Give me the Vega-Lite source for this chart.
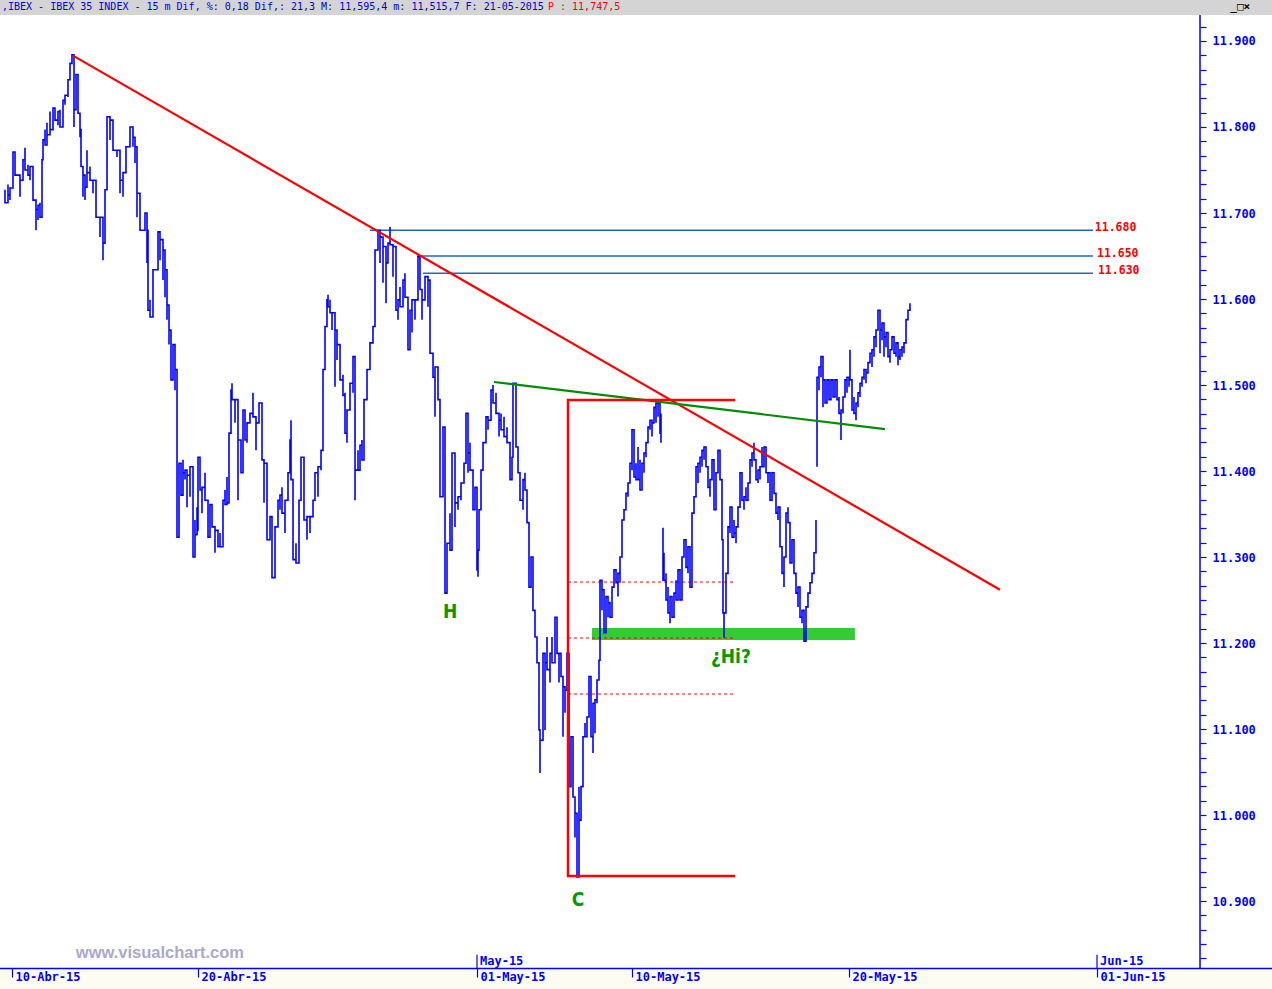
{
"$schema":"https://vega.github.io/schema/vega-lite/v6.json",
"width":1272,"height":989,"autosize":{"type":"none"},"padding":0,
"background":"white",
"config":{"view":{"stroke":null},"axis":{"grid":false}},
"datasets":{
"hdr":[{"t":-0.3871,"t2":40.645,"v":11930.2,"v2":11947.67}],
"cream":[{"t":-0.3871,"t2":40.645,"v":10797.7,"v2":10821.5}],
"band":[{"t":18.71,"t2":27.19,"v":11203.5,"v2":11217.4}],
"levels":[{"t":11.548,"t2":34.87,"v":11680},{"t":13.065,"t2":34.87,"v":11650},{"t":13.258,"t2":34.87,"v":11630}],
"levlab":[{"t":34.93,"v":11680,"l":"11.680"},{"t":35.0,"v":11650,"l":"11.650"},{"t":35.03,"v":11630,"l":"11.630"}],
"fib":[{"t":17.935,"t2":23.323,"v":11270.9},{"t":17.935,"t2":23.323,"v":11205.8},{"t":17.935,"t2":23.323,"v":11140.7}],
"trend":[{"t":1.968,"v":11883},{"t":31.87,"v":11262}],
"gline":[{"t":15.548,"v":11503.5},{"t":28.161,"v":11448.8}],
"bracket":[{"t":23.323,"v":11482.6},{"t":17.935,"v":11482.6},{"t":17.935,"v":10929.0},{"t":23.323,"v":10929.0}],
"yline":[{"t":38.323,"v":10821.5,"v2":11930.2}],
"xline":[{"t":-0.3871,"t2":40.645,"v":10821.5}],
"mticks":[{"t":15,"v":10822,"v2":10837.5},{"t":35,"v":10822,"v2":10837.5}],
"mlab":[{"t":15,"v":10830.5,"l":"May-15"},{"t":35,"v":10830.5,"l":"Jun-15"}],
"ann":[{"t":14.13,"v":11236,"l":"H"},{"t":18.26,"v":10901,"l":"C"},{"t":23.19,"v":11184,"l":"¿Hi?"}],
"wm":[{"t":4.77,"v":10839.6,"l":"www.visualchart.com"}],
"htxt":[{"t":-0.323,"v":11939,"l":",IBEX - IBEX 35 INDEX -  15 m Dif, %: 0,18 Dif,: 21,3 M: 11,595,4 m: 11,515,7 F: 21-05-2015"}],
"htxt2":[{"t":17.29,"v":11939,"l":"P : 11,747,5"}],
"btn":[{"t":39.3,"v":11939,"l":"_□×"}],
"price":[
{"s":1,"t":-0.226,"v":11727},{"s":1,"t":-0.226,"v":11712},
{"s":1,"t":-0.129,"v":11733},{"s":1,"t":-0.129,"v":11721},
{"s":1,"t":-0.065,"v":11715},{"s":1,"t":-0.065,"v":11729},
{"s":1,"t":0.032,"v":11750},{"s":1,"t":0.032,"v":11771},
{"s":1,"t":0.097,"v":11756},{"s":1,"t":0.097,"v":11744},
{"s":1,"t":0.258,"v":11719},{"s":1,"t":0.258,"v":11738},
{"s":1,"t":0.355,"v":11744},{"s":1,"t":0.355,"v":11762},
{"s":1,"t":0.419,"v":11776},{"s":1,"t":0.419,"v":11750},
{"s":1,"t":0.516,"v":11756},{"s":1,"t":0.516,"v":11744},
{"s":1,"t":0.581,"v":11738},{"s":1,"t":0.581,"v":11754},
{"s":1,"t":0.677,"v":11733},{"s":1,"t":0.677,"v":11715},
{"s":1,"t":0.774,"v":11680},{"s":1,"t":0.774,"v":11704},
{"s":1,"t":0.839,"v":11692},{"s":1,"t":0.839,"v":11709},
{"s":1,"t":0.903,"v":11712},{"s":1,"t":0.903,"v":11695},
{"s":1,"t":0.968,"v":11748},{"s":1,"t":0.968,"v":11762},
{"s":1,"t":1.0,"v":11773},{"s":1,"t":1.0,"v":11785},
{"s":1,"t":1.065,"v":11797},{"s":1,"t":1.065,"v":11779},
{"s":1,"t":1.129,"v":11805},{"s":1,"t":1.129,"v":11791},
{"s":1,"t":1.226,"v":11818},{"s":1,"t":1.226,"v":11797},
{"s":1,"t":1.323,"v":11808},{"s":1,"t":1.323,"v":11822},
{"s":1,"t":1.387,"v":11823},{"s":1,"t":1.387,"v":11808},
{"s":1,"t":1.484,"v":11802},{"s":1,"t":1.484,"v":11818},
{"s":1,"t":1.548,"v":11820},{"s":1,"t":1.548,"v":11800},
{"s":1,"t":1.645,"v":11816},{"s":1,"t":1.645,"v":11831},
{"s":1,"t":1.710,"v":11826},{"s":1,"t":1.710,"v":11837},
{"s":1,"t":1.806,"v":11835},{"s":1,"t":1.806,"v":11855},
{"s":1,"t":1.871,"v":11863},{"s":1,"t":1.871,"v":11874},
{"s":1,"t":1.935,"v":11878},{"s":1,"t":1.935,"v":11884},
{"s":1,"t":2.0,"v":11800},{"s":1,"t":2.0,"v":11820},
{"s":1,"t":2.065,"v":11843},{"s":1,"t":2.065,"v":11861},
{"s":1,"t":2.129,"v":11831},{"s":1,"t":2.129,"v":11816},
{"s":1,"t":2.194,"v":11788},{"s":1,"t":2.194,"v":11797},
{"s":1,"t":2.226,"v":11773},{"s":1,"t":2.226,"v":11754},
{"s":1,"t":2.290,"v":11719},{"s":1,"t":2.290,"v":11744},
{"s":1,"t":2.355,"v":11715},{"s":1,"t":2.355,"v":11730},
{"s":1,"t":2.419,"v":11773},{"s":1,"t":2.419,"v":11747},
{"s":1,"t":2.516,"v":11754},{"s":1,"t":2.516,"v":11738},
{"s":1,"t":2.613,"v":11723},{"s":1,"t":2.613,"v":11738},
{"s":1,"t":2.710,"v":11712},{"s":1,"t":2.710,"v":11695},
{"s":1,"t":2.839,"v":11672},{"s":1,"t":2.839,"v":11695},
{"s":1,"t":2.935,"v":11645},{"s":1,"t":2.935,"v":11665},
{"s":1,"t":3.0,"v":11704},{"s":1,"t":3.0,"v":11727},
{"s":1,"t":3.065,"v":11797},{"s":1,"t":3.065,"v":11812},
{"s":1,"t":3.161,"v":11785},{"s":1,"t":3.161,"v":11808},
{"s":1,"t":3.258,"v":11788},{"s":1,"t":3.258,"v":11773},
{"s":1,"t":3.387,"v":11765},{"s":1,"t":3.387,"v":11773},
{"s":1,"t":3.484,"v":11723},{"s":1,"t":3.484,"v":11738},
{"s":1,"t":3.581,"v":11719},{"s":1,"t":3.581,"v":11747},
{"s":1,"t":3.677,"v":11758},{"s":1,"t":3.677,"v":11777},
{"s":1,"t":3.806,"v":11788},{"s":1,"t":3.806,"v":11800},
{"s":1,"t":3.903,"v":11777},{"s":1,"t":3.903,"v":11788},
{"s":1,"t":3.968,"v":11758},{"s":1,"t":3.968,"v":11777},
{"s":1,"t":4.032,"v":11695},{"s":1,"t":4.032,"v":11723},
{"s":1,"t":4.129,"v":11712},{"s":1,"t":4.129,"v":11680},
{"s":1,"t":4.290,"v":11680},{"s":1,"t":4.290,"v":11700},
{"s":1,"t":4.355,"v":11642},{"s":1,"t":4.355,"v":11680},
{"s":1,"t":4.387,"v":11630},{"s":1,"t":4.387,"v":11587},
{"s":1,"t":4.452,"v":11599},{"s":1,"t":4.452,"v":11579},
{"s":1,"t":4.548,"v":11611},{"s":1,"t":4.548,"v":11634},
{"s":1,"t":4.710,"v":11657},{"s":1,"t":4.710,"v":11678},
{"s":1,"t":4.774,"v":11645},{"s":1,"t":4.774,"v":11669},
{"s":1,"t":4.871,"v":11622},{"s":1,"t":4.871,"v":11657},
{"s":1,"t":4.935,"v":11602},{"s":1,"t":4.935,"v":11634},
{"s":1,"t":5.0,"v":11576},{"s":1,"t":5.0,"v":11593},
{"s":1,"t":5.065,"v":11547},{"s":1,"t":5.065,"v":11564},
{"s":1,"t":5.129,"v":11541},{"s":1,"t":5.129,"v":11506},
{"s":1,"t":5.194,"v":11529},{"s":1,"t":5.194,"v":11547},
{"s":1,"t":5.258,"v":11494},{"s":1,"t":5.258,"v":11518},
{"s":1,"t":5.323,"v":11448},{"s":1,"t":5.323,"v":11323},
{"s":1,"t":5.387,"v":11366},{"s":1,"t":5.387,"v":11409},
{"s":1,"t":5.452,"v":11390},{"s":1,"t":5.452,"v":11372},
{"s":1,"t":5.516,"v":11413},{"s":1,"t":5.516,"v":11398},
{"s":1,"t":5.581,"v":11390},{"s":1,"t":5.581,"v":11401},
{"s":1,"t":5.645,"v":11358},{"s":1,"t":5.645,"v":11395},
{"s":1,"t":5.742,"v":11370},{"s":1,"t":5.742,"v":11405},
{"s":1,"t":5.839,"v":11320},{"s":1,"t":5.839,"v":11300},
{"s":1,"t":5.903,"v":11343},{"s":1,"t":5.903,"v":11326},
{"s":1,"t":5.968,"v":11358},{"s":1,"t":5.968,"v":11331},
{"s":1,"t":6.0,"v":11393},{"s":1,"t":6.0,"v":11416},
{"s":1,"t":6.065,"v":11390},{"s":1,"t":6.065,"v":11378},
{"s":1,"t":6.129,"v":11351},{"s":1,"t":6.129,"v":11381},
{"s":1,"t":6.226,"v":11398},{"s":1,"t":6.226,"v":11366},
{"s":1,"t":6.323,"v":11351},{"s":1,"t":6.323,"v":11323},
{"s":1,"t":6.387,"v":11343},{"s":1,"t":6.387,"v":11361},
{"s":1,"t":6.452,"v":11351},{"s":1,"t":6.452,"v":11335},
{"s":1,"t":6.548,"v":11305},{"s":1,"t":6.548,"v":11331},
{"s":1,"t":6.645,"v":11320},{"s":1,"t":6.645,"v":11312},
{"s":1,"t":6.710,"v":11328},{"s":1,"t":6.710,"v":11312},
{"s":1,"t":6.806,"v":11335},{"s":1,"t":6.806,"v":11366},
{"s":1,"t":6.871,"v":11378},{"s":1,"t":6.871,"v":11361},
{"s":1,"t":6.935,"v":11393},{"s":1,"t":6.935,"v":11363},
{"s":1,"t":7.0,"v":11428},{"s":1,"t":7.0,"v":11444},
{"s":1,"t":7.065,"v":11483},{"s":1,"t":7.065,"v":11494},
{"s":1,"t":7.097,"v":11502},{"s":1,"t":7.097,"v":11483},
{"s":1,"t":7.194,"v":11456},{"s":1,"t":7.194,"v":11483},
{"s":1,"t":7.290,"v":11366},{"s":1,"t":7.290,"v":11436},
{"s":1,"t":7.387,"v":11416},{"s":1,"t":7.387,"v":11398},
{"s":1,"t":7.452,"v":11444},{"s":1,"t":7.452,"v":11471},
{"s":1,"t":7.516,"v":11454},{"s":1,"t":7.516,"v":11436},
{"s":1,"t":7.581,"v":11433},{"s":1,"t":7.581,"v":11456},
{"s":1,"t":7.677,"v":11459},{"s":1,"t":7.677,"v":11467},
{"s":1,"t":7.774,"v":11491},{"s":1,"t":7.774,"v":11463},
{"s":1,"t":7.871,"v":11424},{"s":1,"t":7.871,"v":11456},
{"s":1,"t":7.968,"v":11456},{"s":1,"t":7.968,"v":11479},
{"s":1,"t":8.065,"v":11433},{"s":1,"t":8.065,"v":11413},
{"s":1,"t":8.129,"v":11363},{"s":1,"t":8.129,"v":11409},
{"s":1,"t":8.226,"v":11355},{"s":1,"t":8.226,"v":11320},
{"s":1,"t":8.323,"v":11328},{"s":1,"t":8.323,"v":11347},
{"s":1,"t":8.387,"v":11308},{"s":1,"t":8.387,"v":11276},
{"s":1,"t":8.484,"v":11305},{"s":1,"t":8.484,"v":11335},
{"s":1,"t":8.581,"v":11343},{"s":1,"t":8.581,"v":11366},
{"s":1,"t":8.645,"v":11355},{"s":1,"t":8.645,"v":11372},
{"s":1,"t":8.710,"v":11381},{"s":1,"t":8.710,"v":11351},
{"s":1,"t":8.806,"v":11328},{"s":1,"t":8.806,"v":11366},
{"s":1,"t":8.903,"v":11374},{"s":1,"t":8.903,"v":11398},
{"s":1,"t":8.968,"v":11416},{"s":1,"t":8.968,"v":11436},
{"s":1,"t":9.0,"v":11459},{"s":1,"t":9.0,"v":11390},
{"s":1,"t":9.065,"v":11347},{"s":1,"t":9.065,"v":11297},
{"s":1,"t":9.161,"v":11316},{"s":1,"t":9.161,"v":11293},
{"s":1,"t":9.258,"v":11335},{"s":1,"t":9.258,"v":11366},
{"s":1,"t":9.323,"v":11390},{"s":1,"t":9.323,"v":11416},
{"s":1,"t":9.419,"v":11358},{"s":1,"t":9.419,"v":11343},
{"s":1,"t":9.516,"v":11320},{"s":1,"t":9.516,"v":11347},
{"s":1,"t":9.613,"v":11328},{"s":1,"t":9.613,"v":11347},
{"s":1,"t":9.710,"v":11358},{"s":1,"t":9.710,"v":11366},
{"s":1,"t":9.774,"v":11366},{"s":1,"t":9.774,"v":11398},
{"s":1,"t":9.871,"v":11370},{"s":1,"t":9.871,"v":11405},
{"s":1,"t":9.968,"v":11401},{"s":1,"t":9.968,"v":11424},
{"s":1,"t":10.032,"v":11467},{"s":1,"t":10.032,"v":11518},
{"s":1,"t":10.097,"v":11521},{"s":1,"t":10.097,"v":11568},
{"s":1,"t":10.161,"v":11587},{"s":1,"t":10.161,"v":11599},
{"s":1,"t":10.194,"v":11605},{"s":1,"t":10.194,"v":11591},
{"s":1,"t":10.258,"v":11599},{"s":1,"t":10.258,"v":11584},
{"s":1,"t":10.323,"v":11564},{"s":1,"t":10.323,"v":11584},
{"s":1,"t":10.419,"v":11498},{"s":1,"t":10.419,"v":11564},
{"s":1,"t":10.484,"v":11529},{"s":1,"t":10.484,"v":11547},
{"s":1,"t":10.581,"v":11537},{"s":1,"t":10.581,"v":11506},
{"s":1,"t":10.677,"v":11512},{"s":1,"t":10.677,"v":11488},
{"s":1,"t":10.742,"v":11491},{"s":1,"t":10.742,"v":11444},
{"s":1,"t":10.806,"v":11433},{"s":1,"t":10.806,"v":11471},
{"s":1,"t":10.903,"v":11483},{"s":1,"t":10.903,"v":11502},
{"s":1,"t":11.0,"v":11491},{"s":1,"t":11.0,"v":11533},
{"s":1,"t":11.065,"v":11366},{"s":1,"t":11.065,"v":11401},
{"s":1,"t":11.161,"v":11424},{"s":1,"t":11.161,"v":11401},
{"s":1,"t":11.226,"v":11413},{"s":1,"t":11.226,"v":11430},
{"s":1,"t":11.290,"v":11436},{"s":1,"t":11.290,"v":11413},
{"s":1,"t":11.355,"v":11433},{"s":1,"t":11.355,"v":11483},
{"s":1,"t":11.452,"v":11483},{"s":1,"t":11.452,"v":11518},
{"s":1,"t":11.548,"v":11521},{"s":1,"t":11.548,"v":11549},
{"s":1,"t":11.645,"v":11549},{"s":1,"t":11.645,"v":11568},
{"s":1,"t":11.710,"v":11602},{"s":1,"t":11.710,"v":11657},
{"s":1,"t":11.806,"v":11661},{"s":1,"t":11.806,"v":11680},
{"s":1,"t":11.871,"v":11642},{"s":1,"t":11.871,"v":11672},
{"s":1,"t":11.968,"v":11619},{"s":1,"t":11.968,"v":11661},
{"s":1,"t":12.065,"v":11595},{"s":1,"t":12.065,"v":11642},
{"s":1,"t":12.129,"v":11642},{"s":1,"t":12.129,"v":11665},
{"s":1,"t":12.194,"v":11684},{"s":1,"t":12.194,"v":11663},
{"s":1,"t":12.290,"v":11626},{"s":1,"t":12.290,"v":11661},
{"s":1,"t":12.387,"v":11614},{"s":1,"t":12.387,"v":11587},
{"s":1,"t":12.452,"v":11576},{"s":1,"t":12.452,"v":11599},
{"s":1,"t":12.516,"v":11614},{"s":1,"t":12.516,"v":11591},
{"s":1,"t":12.613,"v":11605},{"s":1,"t":12.613,"v":11622},
{"s":1,"t":12.677,"v":11630},{"s":1,"t":12.677,"v":11602},
{"s":1,"t":12.774,"v":11591},{"s":1,"t":12.774,"v":11541},
{"s":1,"t":12.839,"v":11564},{"s":1,"t":12.839,"v":11587},
{"s":1,"t":12.903,"v":11561},{"s":1,"t":12.903,"v":11599},
{"s":1,"t":13.0,"v":11576},{"s":1,"t":13.0,"v":11599},
{"s":1,"t":13.097,"v":11619},{"s":1,"t":13.097,"v":11649},
{"s":1,"t":13.161,"v":11640},{"s":1,"t":13.161,"v":11611},
{"s":1,"t":13.226,"v":11576},{"s":1,"t":13.226,"v":11599},
{"s":1,"t":13.323,"v":11602},{"s":1,"t":13.323,"v":11626},
{"s":1,"t":13.419,"v":11591},{"s":1,"t":13.419,"v":11622},
{"s":1,"t":13.484,"v":11568},{"s":1,"t":13.484,"v":11537},
{"s":1,"t":13.581,"v":11533},{"s":1,"t":13.581,"v":11509},
{"s":1,"t":13.645,"v":11463},{"s":1,"t":13.645,"v":11521},
{"s":1,"t":13.742,"v":11509},{"s":1,"t":13.742,"v":11483},
{"s":1,"t":13.806,"v":11421},{"s":1,"t":13.806,"v":11370},
{"s":1,"t":13.903,"v":11416},{"s":1,"t":13.903,"v":11451},
{"s":1,"t":13.968,"v":11370},{"s":1,"t":13.968,"v":11258},
{"s":1,"t":14.032,"v":11297},{"s":1,"t":14.032,"v":11316},
{"s":1,"t":14.129,"v":11351},{"s":1,"t":14.129,"v":11308},
{"s":1,"t":14.194,"v":11401},{"s":1,"t":14.194,"v":11421},
{"s":1,"t":14.290,"v":11335},{"s":1,"t":14.290,"v":11363},
{"s":1,"t":14.387,"v":11355},{"s":1,"t":14.387,"v":11370},
{"s":1,"t":14.484,"v":11366},{"s":1,"t":14.484,"v":11386},
{"s":1,"t":14.581,"v":11393},{"s":1,"t":14.581,"v":11409},
{"s":1,"t":14.645,"v":11424},{"s":1,"t":14.645,"v":11467},
{"s":1,"t":14.710,"v":11398},{"s":1,"t":14.710,"v":11421},
{"s":1,"t":14.774,"v":11433},{"s":1,"t":14.774,"v":11401},
{"s":1,"t":14.871,"v":11381},{"s":1,"t":14.871,"v":11355},
{"s":1,"t":14.935,"v":11363},{"s":1,"t":14.935,"v":11381},
{"s":1,"t":15.0,"v":11343},{"s":1,"t":15.0,"v":11285},
{"s":1,"t":15.032,"v":11277},{"s":1,"t":15.032,"v":11308},
{"s":1,"t":15.065,"v":11323},{"s":1,"t":15.065,"v":11355},
{"s":1,"t":15.129,"v":11363},{"s":1,"t":15.129,"v":11401},
{"s":1,"t":15.194,"v":11405},{"s":1,"t":15.194,"v":11433},
{"s":1,"t":15.290,"v":11444},{"s":1,"t":15.290,"v":11463},
{"s":1,"t":15.355,"v":11448},{"s":1,"t":15.355,"v":11459},
{"s":1,"t":15.452,"v":11471},{"s":1,"t":15.452,"v":11494},
{"s":1,"t":15.516,"v":11500},{"s":1,"t":15.516,"v":11479},
{"s":1,"t":15.613,"v":11491},{"s":1,"t":15.613,"v":11467},
{"s":1,"t":15.710,"v":11440},{"s":1,"t":15.710,"v":11459},
{"s":1,"t":15.774,"v":11467},{"s":1,"t":15.774,"v":11448},
{"s":1,"t":15.871,"v":11463},{"s":1,"t":15.871,"v":11440},
{"s":1,"t":15.968,"v":11451},{"s":1,"t":15.968,"v":11433},
{"s":1,"t":16.065,"v":11428},{"s":1,"t":16.065,"v":11390},
{"s":1,"t":16.129,"v":11390},{"s":1,"t":16.129,"v":11416},
{"s":1,"t":16.161,"v":11479},{"s":1,"t":16.161,"v":11502},
{"s":1,"t":16.258,"v":11456},{"s":1,"t":16.258,"v":11428},
{"s":1,"t":16.323,"v":11405},{"s":1,"t":16.323,"v":11398},
{"s":1,"t":16.387,"v":11390},{"s":1,"t":16.387,"v":11366},
{"s":1,"t":16.484,"v":11355},{"s":1,"t":16.484,"v":11390},
{"s":1,"t":16.548,"v":11398},{"s":1,"t":16.548,"v":11378},
{"s":1,"t":16.613,"v":11351},{"s":1,"t":16.613,"v":11340},
{"s":1,"t":16.677,"v":11308},{"s":1,"t":16.677,"v":11265},
{"s":1,"t":16.742,"v":11277},{"s":1,"t":16.742,"v":11300},
{"s":1,"t":16.806,"v":11265},{"s":1,"t":16.806,"v":11238},
{"s":1,"t":16.871,"v":11230},{"s":1,"t":16.871,"v":11207},
{"s":1,"t":16.935,"v":11207},{"s":1,"t":16.935,"v":11177},
{"s":1,"t":17.0,"v":11154},{"s":1,"t":17.0,"v":11099},
{"s":1,"t":17.032,"v":11049},{"s":1,"t":17.032,"v":11087},
{"s":1,"t":17.129,"v":11149},{"s":1,"t":17.129,"v":11188},
{"s":1,"t":17.194,"v":11099},{"s":1,"t":17.194,"v":11177},
{"s":1,"t":17.258,"v":11207},{"s":1,"t":17.258,"v":11169},
{"s":1,"t":17.355,"v":11154},{"s":1,"t":17.355,"v":11188},
{"s":1,"t":17.419,"v":11207},{"s":1,"t":17.419,"v":11177},
{"s":1,"t":17.516,"v":11207},{"s":1,"t":17.516,"v":11230},
{"s":1,"t":17.581,"v":11215},{"s":1,"t":17.581,"v":11188},
{"s":1,"t":17.645,"v":11154},{"s":1,"t":17.645,"v":11188},
{"s":1,"t":17.710,"v":11180},{"s":1,"t":17.710,"v":11161},
{"s":1,"t":17.774,"v":11091},{"s":1,"t":17.774,"v":11149},
{"s":1,"t":17.839,"v":11119},{"s":1,"t":17.839,"v":11145},
{"s":1,"t":17.903,"v":11157},{"s":1,"t":17.903,"v":11188},
{"s":1,"t":17.968,"v":11091},{"s":1,"t":17.968,"v":11033},
{"s":1,"t":18.032,"v":11044},{"s":1,"t":18.032,"v":11091},
{"s":1,"t":18.097,"v":11061},{"s":1,"t":18.097,"v":11021},
{"s":1,"t":18.161,"v":10974},{"s":1,"t":18.161,"v":11002},
{"s":1,"t":18.226,"v":10994},{"s":1,"t":18.226,"v":10928},
{"s":1,"t":18.290,"v":11033},{"s":1,"t":18.290,"v":10994},
{"s":1,"t":18.355,"v":11014},{"s":1,"t":18.355,"v":11033},
{"s":1,"t":18.419,"v":11052},{"s":1,"t":18.419,"v":11091},
{"s":1,"t":18.484,"v":11107},{"s":1,"t":18.484,"v":11091},
{"s":1,"t":18.548,"v":11095},{"s":1,"t":18.548,"v":11114},
{"s":1,"t":18.613,"v":11122},{"s":1,"t":18.613,"v":11161},
{"s":1,"t":18.677,"v":11134},{"s":1,"t":18.677,"v":11091},
{"s":1,"t":18.742,"v":11072},{"s":1,"t":18.742,"v":11130},
{"s":1,"t":18.806,"v":11095},{"s":1,"t":18.806,"v":11134},
{"s":1,"t":18.871,"v":11130},{"s":1,"t":18.871,"v":11157},
{"s":1,"t":18.935,"v":11169},{"s":1,"t":18.935,"v":11180},
{"s":1,"t":18.968,"v":11207},{"s":1,"t":18.968,"v":11273},
{"s":1,"t":19.032,"v":11238},{"s":1,"t":19.032,"v":11262},
{"s":1,"t":19.097,"v":11247},{"s":1,"t":19.097,"v":11212},
{"s":1,"t":19.161,"v":11235},{"s":1,"t":19.161,"v":11254},
{"s":1,"t":19.226,"v":11230},{"s":1,"t":19.226,"v":11247},
{"s":1,"t":19.290,"v":11247},{"s":1,"t":19.290,"v":11230},
{"s":1,"t":19.355,"v":11238},{"s":1,"t":19.355,"v":11265},
{"s":1,"t":19.419,"v":11265},{"s":1,"t":19.419,"v":11285},
{"s":1,"t":19.484,"v":11285},{"s":1,"t":19.484,"v":11270},
{"s":1,"t":19.548,"v":11254},{"s":1,"t":19.548,"v":11281},
{"s":1,"t":19.613,"v":11270},{"s":1,"t":19.613,"v":11300},
{"s":1,"t":19.677,"v":11305},{"s":1,"t":19.677,"v":11343},
{"s":1,"t":19.742,"v":11347},{"s":1,"t":19.742,"v":11355},
{"s":1,"t":19.806,"v":11355},{"s":1,"t":19.806,"v":11374},
{"s":1,"t":19.871,"v":11370},{"s":1,"t":19.871,"v":11386},
{"s":1,"t":19.935,"v":11401},{"s":1,"t":19.935,"v":11409},
{"s":1,"t":20.0,"v":11401},{"s":1,"t":20.0,"v":11448},
{"s":1,"t":20.065,"v":11433},{"s":1,"t":20.065,"v":11393},
{"s":1,"t":20.129,"v":11409},{"s":1,"t":20.129,"v":11390},
{"s":1,"t":20.194,"v":11428},{"s":1,"t":20.194,"v":11390},
{"s":1,"t":20.258,"v":11413},{"s":1,"t":20.258,"v":11378},
{"s":1,"t":20.323,"v":11390},{"s":1,"t":20.323,"v":11409},
{"s":1,"t":20.387,"v":11398},{"s":1,"t":20.387,"v":11421},
{"s":1,"t":20.452,"v":11416},{"s":1,"t":20.452,"v":11433},
{"s":1,"t":20.516,"v":11436},{"s":1,"t":20.516,"v":11451},
{"s":1,"t":20.581,"v":11448},{"s":1,"t":20.581,"v":11459},
{"s":1,"t":20.645,"v":11440},{"s":1,"t":20.645,"v":11456},
{"s":1,"t":20.710,"v":11459},{"s":1,"t":20.710,"v":11474},
{"s":1,"t":20.774,"v":11456},{"s":1,"t":20.774,"v":11479},
{"s":1,"t":20.839,"v":11463},{"s":1,"t":20.839,"v":11479},
{"s":1,"t":20.903,"v":11471},{"s":1,"t":20.903,"v":11444},
{"s":1,"t":20.935,"v":11467},{"s":1,"t":20.935,"v":11433},
{"s":2,"t":21.0,"v":11334},{"s":2,"t":21.0,"v":11273},
{"s":2,"t":21.032,"v":11305},{"s":2,"t":21.032,"v":11273},
{"s":2,"t":21.097,"v":11281},{"s":2,"t":21.097,"v":11250},
{"s":2,"t":21.161,"v":11265},{"s":2,"t":21.161,"v":11235},
{"s":2,"t":21.226,"v":11223},{"s":2,"t":21.226,"v":11254},
{"s":2,"t":21.290,"v":11250},{"s":2,"t":21.290,"v":11230},
{"s":2,"t":21.355,"v":11238},{"s":2,"t":21.355,"v":11258},
{"s":2,"t":21.419,"v":11273},{"s":2,"t":21.419,"v":11250},
{"s":2,"t":21.484,"v":11258},{"s":2,"t":21.484,"v":11285},
{"s":2,"t":21.548,"v":11270},{"s":2,"t":21.548,"v":11250},
{"s":2,"t":21.613,"v":11273},{"s":2,"t":21.613,"v":11300},
{"s":2,"t":21.677,"v":11305},{"s":2,"t":21.677,"v":11320},
{"s":2,"t":21.742,"v":11312},{"s":2,"t":21.742,"v":11288},
{"s":2,"t":21.806,"v":11281},{"s":2,"t":21.806,"v":11312},
{"s":2,"t":21.871,"v":11300},{"s":2,"t":21.871,"v":11265},
{"s":2,"t":21.935,"v":11323},{"s":2,"t":21.935,"v":11351},
{"s":2,"t":22.0,"v":11351},{"s":2,"t":22.0,"v":11370},
{"s":2,"t":22.065,"v":11381},{"s":2,"t":22.065,"v":11405},
{"s":2,"t":22.129,"v":11386},{"s":2,"t":22.129,"v":11409},
{"s":2,"t":22.194,"v":11398},{"s":2,"t":22.194,"v":11416},
{"s":2,"t":22.258,"v":11405},{"s":2,"t":22.258,"v":11424},
{"s":2,"t":22.323,"v":11413},{"s":2,"t":22.323,"v":11428},
{"s":2,"t":22.387,"v":11428},{"s":2,"t":22.387,"v":11405},
{"s":2,"t":22.452,"v":11398},{"s":2,"t":22.452,"v":11381},
{"s":2,"t":22.516,"v":11370},{"s":2,"t":22.516,"v":11390},
{"s":2,"t":22.581,"v":11398},{"s":2,"t":22.581,"v":11413},
{"s":2,"t":22.645,"v":11398},{"s":2,"t":22.645,"v":11355},
{"s":2,"t":22.710,"v":11374},{"s":2,"t":22.710,"v":11398},
{"s":2,"t":22.774,"v":11405},{"s":2,"t":22.774,"v":11424},
{"s":2,"t":22.839,"v":11405},{"s":2,"t":22.839,"v":11390},
{"s":2,"t":22.903,"v":11351},{"s":2,"t":22.903,"v":11320},
{"s":2,"t":22.935,"v":11320},{"s":2,"t":22.935,"v":11235},
{"s":2,"t":22.968,"v":11206},{"s":2,"t":22.968,"v":11235},
{"s":2,"t":23.032,"v":11250},{"s":2,"t":23.032,"v":11281},
{"s":2,"t":23.097,"v":11300},{"s":2,"t":23.097,"v":11335},
{"s":2,"t":23.161,"v":11328},{"s":2,"t":23.161,"v":11358},
{"s":2,"t":23.226,"v":11351},{"s":2,"t":23.226,"v":11323},
{"s":2,"t":23.290,"v":11343},{"s":2,"t":23.290,"v":11328},
{"s":2,"t":23.355,"v":11316},{"s":2,"t":23.355,"v":11335},
{"s":2,"t":23.419,"v":11340},{"s":2,"t":23.419,"v":11358},
{"s":2,"t":23.484,"v":11366},{"s":2,"t":23.484,"v":11398},
{"s":2,"t":23.548,"v":11381},{"s":2,"t":23.548,"v":11366},
{"s":2,"t":23.613,"v":11355},{"s":2,"t":23.613,"v":11370},
{"s":2,"t":23.677,"v":11381},{"s":2,"t":23.677,"v":11366},
{"s":2,"t":23.742,"v":11370},{"s":2,"t":23.742,"v":11386},
{"s":2,"t":23.806,"v":11401},{"s":2,"t":23.806,"v":11413},
{"s":2,"t":23.871,"v":11405},{"s":2,"t":23.871,"v":11421},
{"s":2,"t":23.935,"v":11433},{"s":2,"t":23.935,"v":11413},
{"s":2,"t":24.0,"v":11405},{"s":2,"t":24.0,"v":11390},
{"s":2,"t":24.065,"v":11386},{"s":2,"t":24.065,"v":11401},
{"s":2,"t":24.129,"v":11390},{"s":2,"t":24.129,"v":11405},
{"s":2,"t":24.194,"v":11428},{"s":2,"t":24.194,"v":11405},
{"s":2,"t":24.258,"v":11413},{"s":2,"t":24.258,"v":11428},
{"s":2,"t":24.323,"v":11409},{"s":2,"t":24.323,"v":11398},
{"s":2,"t":24.387,"v":11386},{"s":2,"t":24.387,"v":11398},
{"s":2,"t":24.452,"v":11390},{"s":2,"t":24.452,"v":11366},
{"s":2,"t":24.516,"v":11381},{"s":2,"t":24.516,"v":11398},
{"s":2,"t":24.581,"v":11390},{"s":2,"t":24.581,"v":11374},
{"s":2,"t":24.645,"v":11370},{"s":2,"t":24.645,"v":11351},
{"s":2,"t":24.710,"v":11343},{"s":2,"t":24.710,"v":11358},
{"s":2,"t":24.774,"v":11335},{"s":2,"t":24.774,"v":11312},
{"s":2,"t":24.839,"v":11308},{"s":2,"t":24.839,"v":11281},
{"s":2,"t":24.903,"v":11265},{"s":2,"t":24.903,"v":11300},
{"s":2,"t":24.968,"v":11312},{"s":2,"t":24.968,"v":11351},
{"s":2,"t":25.032,"v":11358},{"s":2,"t":25.032,"v":11340},
{"s":2,"t":25.097,"v":11323},{"s":2,"t":25.097,"v":11293},
{"s":2,"t":25.161,"v":11300},{"s":2,"t":25.161,"v":11320},
{"s":2,"t":25.226,"v":11297},{"s":2,"t":25.226,"v":11281},
{"s":2,"t":25.290,"v":11273},{"s":2,"t":25.290,"v":11258},
{"s":2,"t":25.355,"v":11242},{"s":2,"t":25.355,"v":11265},
{"s":2,"t":25.419,"v":11250},{"s":2,"t":25.419,"v":11230},
{"s":2,"t":25.484,"v":11223},{"s":2,"t":25.484,"v":11238},
{"s":2,"t":25.548,"v":11227},{"s":2,"t":25.548,"v":11202},
{"s":2,"t":25.613,"v":11223},{"s":2,"t":25.613,"v":11242},
{"s":2,"t":25.677,"v":11247},{"s":2,"t":25.677,"v":11258},
{"s":2,"t":25.742,"v":11258},{"s":2,"t":25.742,"v":11270},
{"s":2,"t":25.806,"v":11270},{"s":2,"t":25.806,"v":11281},
{"s":2,"t":25.871,"v":11281},{"s":2,"t":25.871,"v":11305},
{"s":2,"t":25.935,"v":11312},{"s":2,"t":25.935,"v":11343},
{"s":3,"t":25.968,"v":11405},{"s":3,"t":25.968,"v":11509},
{"s":3,"t":26.032,"v":11494},{"s":3,"t":26.032,"v":11521},
{"s":3,"t":26.097,"v":11509},{"s":3,"t":26.097,"v":11533},
{"s":3,"t":26.161,"v":11474},{"s":3,"t":26.161,"v":11506},
{"s":3,"t":26.226,"v":11498},{"s":3,"t":26.226,"v":11479},
{"s":3,"t":26.290,"v":11486},{"s":3,"t":26.290,"v":11506},
{"s":3,"t":26.355,"v":11498},{"s":3,"t":26.355,"v":11483},
{"s":3,"t":26.419,"v":11491},{"s":3,"t":26.419,"v":11506},
{"s":3,"t":26.484,"v":11502},{"s":3,"t":26.484,"v":11486},
{"s":3,"t":26.548,"v":11491},{"s":3,"t":26.548,"v":11506},
{"s":3,"t":26.613,"v":11498},{"s":3,"t":26.613,"v":11483},
{"s":3,"t":26.677,"v":11486},{"s":3,"t":26.677,"v":11467},
{"s":3,"t":26.742,"v":11436},{"s":3,"t":26.742,"v":11471},
{"s":3,"t":26.806,"v":11467},{"s":3,"t":26.806,"v":11486},
{"s":3,"t":26.871,"v":11486},{"s":3,"t":26.871,"v":11506},
{"s":3,"t":26.935,"v":11491},{"s":3,"t":26.935,"v":11509},
{"s":3,"t":27.0,"v":11498},{"s":3,"t":27.0,"v":11509},
{"s":3,"t":27.032,"v":11541},{"s":3,"t":27.032,"v":11506},
{"s":3,"t":27.097,"v":11491},{"s":3,"t":27.097,"v":11471},
{"s":3,"t":27.161,"v":11486},{"s":3,"t":27.161,"v":11467},
{"s":3,"t":27.226,"v":11459},{"s":3,"t":27.226,"v":11479},
{"s":3,"t":27.290,"v":11474},{"s":3,"t":27.290,"v":11491},
{"s":3,"t":27.355,"v":11486},{"s":3,"t":27.355,"v":11502},
{"s":3,"t":27.419,"v":11498},{"s":3,"t":27.419,"v":11509},
{"s":3,"t":27.484,"v":11506},{"s":3,"t":27.484,"v":11518},
{"s":3,"t":27.548,"v":11502},{"s":3,"t":27.548,"v":11514},
{"s":3,"t":27.613,"v":11514},{"s":3,"t":27.613,"v":11526},
{"s":3,"t":27.677,"v":11526},{"s":3,"t":27.677,"v":11537},
{"s":3,"t":27.742,"v":11521},{"s":3,"t":27.742,"v":11541},
{"s":3,"t":27.806,"v":11533},{"s":3,"t":27.806,"v":11556},
{"s":3,"t":27.871,"v":11544},{"s":3,"t":27.871,"v":11564},
{"s":3,"t":27.935,"v":11572},{"s":3,"t":27.935,"v":11587},
{"s":3,"t":28.0,"v":11537},{"s":3,"t":28.0,"v":11564},
{"s":3,"t":28.065,"v":11552},{"s":3,"t":28.065,"v":11572},
{"s":3,"t":28.129,"v":11533},{"s":3,"t":28.129,"v":11556},
{"s":3,"t":28.194,"v":11544},{"s":3,"t":28.194,"v":11561},
{"s":3,"t":28.258,"v":11552},{"s":3,"t":28.258,"v":11533},
{"s":3,"t":28.323,"v":11526},{"s":3,"t":28.323,"v":11541},
{"s":3,"t":28.387,"v":11541},{"s":3,"t":28.387,"v":11556},
{"s":3,"t":28.452,"v":11556},{"s":3,"t":28.452,"v":11537},
{"s":3,"t":28.516,"v":11533},{"s":3,"t":28.516,"v":11549},
{"s":3,"t":28.581,"v":11523},{"s":3,"t":28.581,"v":11533},
{"s":3,"t":28.645,"v":11529},{"s":3,"t":28.645,"v":11541},
{"s":3,"t":28.710,"v":11533},{"s":3,"t":28.710,"v":11544},
{"s":3,"t":28.774,"v":11537},{"s":3,"t":28.774,"v":11549},
{"s":3,"t":28.839,"v":11556},{"s":3,"t":28.839,"v":11576},
{"s":3,"t":28.903,"v":11576},{"s":3,"t":28.903,"v":11587},
{"s":3,"t":28.968,"v":11587},{"s":3,"t":28.968,"v":11595}
]
},
"encoding":{
"x":{"field":"t","type":"quantitative","scale":{"domain":[-0.3871,40.645],"nice":false,"zero":false},
"axis":{"orient":"bottom","offset":-21,"domain":false,"grid":false,"values":[0,6,15,20,27,35],"tickSize":9,"tickColor":"#0000ff","tickWidth":1.2,
"labelExpr":"datum.value == 0 ? '10-Abr-15' : datum.value == 6 ? '20-Abr-15' : datum.value == 15 ? '01-May-15' : datum.value == 20 ? '10-May-15' : datum.value == 27 ? '20-May-15' : '01-Jun-15'",
"labelAlign":"left","labelBaseline":"top","labelPadding":-6,"labelOffset":3,"labelFont":"DejaVu Sans Mono","labelFontWeight":"bold","labelFontSize":12,"labelColor":"#0000ff","title":null,"labelFlush":false,"labelOverlap":false,"labelBound":false,"zindex":1}},
"y":{"field":"v","type":"quantitative","scale":{"domain":[10797.7,11947.67],"nice":false,"zero":false},
"axis":{"orient":"right","offset":-72,"domain":false,"grid":false,
"values":[10833.333,10850,10866.667,10883.333,10900,10916.667,10933.333,10950,10966.667,10983.333,11000,11016.667,11033.333,11050,11066.667,11083.333,11100,11116.667,11133.333,11150,11166.667,11183.333,11200,11216.667,11233.333,11250,11266.667,11283.333,11300,11316.667,11333.333,11350,11366.667,11383.333,11400,11416.667,11433.333,11450,11466.667,11483.333,11500,11516.667,11533.333,11550,11566.667,11583.333,11600,11616.667,11633.333,11650,11666.667,11683.333,11700,11716.667,11733.333,11750,11766.667,11783.333,11800,11816.667,11833.333,11850,11866.667,11883.333,11900,11916.667],
"tickSize":6,"tickColor":"#0000ff","tickWidth":1.2,
"labelExpr":"abs(datum.value - round(datum.value/100)*100) < 0.5 ? replace(format(datum.value, ',.0f'), ',', '.') : ''",
"labelPadding":6,"labelFont":"DejaVu Sans Mono","labelFontWeight":"bold","labelFontSize":12,"labelColor":"#0000ff","title":null,"labelOverlap":false,"labelFlush":false,"labelBound":false,"zindex":1}}
},
"layer":[
{"data":{"name":"hdr"},"mark":{"type":"rect","color":"#d4d4d4"},"encoding":{"x2":{"field":"t2"},"y2":{"field":"v2"}}},
{"data":{"name":"cream"},"mark":{"type":"rect","color":"#fcfcf2"},"encoding":{"x2":{"field":"t2"},"y2":{"field":"v2"}}},
{"data":{"name":"band"},"mark":{"type":"rect","color":"#33cc33"},"encoding":{"x2":{"field":"t2"},"y2":{"field":"v2"}}},
{"data":{"name":"levels"},"mark":{"type":"rule","color":"#1f66c8","strokeWidth":1.5},"encoding":{"x2":{"field":"t2"}}},
{"data":{"name":"fib"},"mark":{"type":"rule","color":"#ff0000","strokeWidth":1,"strokeDash":[3,3]},"encoding":{"x2":{"field":"t2"}}},
{"data":{"name":"price"},"mark":{"type":"line","color":"#0000ff","strokeWidth":1.6,"interpolate":"step-after"},"encoding":{"detail":{"field":"s","type":"nominal"},"order":{"value":null}}},
{"data":{"name":"trend"},"mark":{"type":"line","color":"#ff0000","strokeWidth":2.2},"encoding":{}},
{"data":{"name":"gline"},"mark":{"type":"line","color":"#008c00","strokeWidth":2.2},"encoding":{}},
{"data":{"name":"bracket"},"mark":{"type":"line","color":"#ff0000","strokeWidth":2.5},"encoding":{"order":{"value":null}}},
{"data":{"name":"yline"},"mark":{"type":"rule","color":"#0000ff","strokeWidth":1.5},"encoding":{"y2":{"field":"v2"}}},
{"data":{"name":"xline"},"mark":{"type":"rule","color":"#0000ff","strokeWidth":1.5},"encoding":{"x2":{"field":"t2"}}},
{"data":{"name":"mticks"},"mark":{"type":"rule","color":"#0000ff","strokeWidth":1.2},"encoding":{"y2":{"field":"v2"}}},
{"data":{"name":"mlab"},"mark":{"type":"text","align":"left","baseline":"middle","dx":3,"font":"DejaVu Sans Mono","fontWeight":"bold","fontSize":12,"color":"#0000ff"},"encoding":{"text":{"field":"l"}}},
{"data":{"name":"levlab"},"mark":{"type":"text","align":"left","baseline":"middle","dy":-2,"font":"DejaVu Sans Mono","fontWeight":"bold","fontSize":11.5,"color":"#ff0000"},"encoding":{"text":{"field":"l"}}},
{"data":{"name":"ann"},"mark":{"type":"text","align":"center","baseline":"middle","font":"Liberation Sans Narrow, DejaVu Sans Condensed, sans-serif","fontWeight":"bold","fontSize":19,"color":"#009a00"},"encoding":{"text":{"field":"l"}}},
{"data":{"name":"wm"},"mark":{"type":"text","align":"center","baseline":"middle","font":"Liberation Sans","fontWeight":"bold","fontSize":16.5,"color":"#a9a9cc"},"encoding":{"text":{"field":"l"}}},
{"data":{"name":"htxt"},"mark":{"type":"text","align":"left","baseline":"middle","font":"DejaVu Sans Mono","fontSize":10,"color":"#0000dd"},"encoding":{"text":{"field":"l"}}},
{"data":{"name":"htxt2"},"mark":{"type":"text","align":"left","baseline":"middle","font":"DejaVu Sans Mono","fontSize":10,"color":"#ff0000"},"encoding":{"text":{"field":"l"}}},
{"data":{"name":"btn"},"mark":{"type":"text","align":"left","baseline":"middle","font":"DejaVu Sans Mono","fontWeight":"bold","fontSize":11,"color":"#000000"},"encoding":{"text":{"field":"l"}}}
]
}
